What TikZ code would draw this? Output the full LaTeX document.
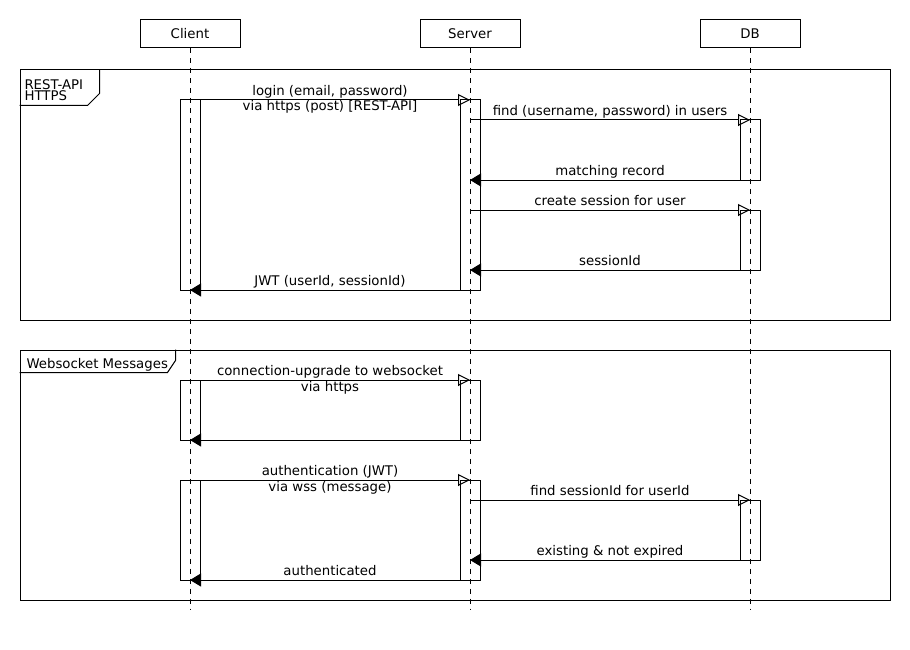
\documentclass[tikz,border=0pt]{standalone}
\usepackage{fontspec}
\setmainfont{DejaVu Sans}
\usetikzlibrary{positioning, arrows.meta, fit}

\begin{document}
\begin{tikzpicture}[
          x = 1pt, y = -1pt, line width = 1pt,
          font = \fontsize{13.3}{16}\selectfont,
          call/.style = {-{Triangle[open, length=12pt, width=12pt]}},
          reply/.style = {-{Triangle[length=11pt, width=13pt]}},
          msg/.style = {midway, anchor=base, yshift=4.5pt, inner sep=0},
          msgbelow/.style = {midway, anchor=base, yshift=-11pt, inner sep=0}
        ]
          \tikzstyle {head} = [draw, minimum width = 100pt, minimum height = 28pt, inner sep = 0]
          \tikzstyle {lifeline} = [dash pattern = on 5pt off 5pt]
          \tikzstyle {act} = [draw, minimum width = 20pt, inner sep = 0]
          \tikzstyle {fragment} = [draw, inner sep = 0]
          \useasboundingbox (0,0) rectangle (910,650);
          % place nodes
          \path node (client) [head] at (190,34) {Client};
          \path node (server) [head] at (470,34) {Server};
          \path node (db) [head] at (750,34) {DB};
          \coordinate (bottom) at (0,610);
          % lifelines
          \foreach \p in {client, server, db}
            { \draw [lifeline] (\p.south) -- (\p.south |- bottom) ; } ;
          % combined fragments
          \path node (restframe) [fragment, minimum width = 870pt, minimum height = 250pt] at (455,195) {};
          \draw ([xshift=80pt]restframe.north west) -- ++(0,24) -- ++(-12,12) -- ++(-68,0);
          \path node [anchor = north west, inner sep = 0, align = left,
            font = \fontsize{13.3}{11.5}\selectfont] at (24,79) {REST-API\\HTTPS};
          \path node (wsframe) [fragment, minimum width = 870pt, minimum height = 250pt] at (455,475) {};
          \draw ([xshift=156pt]wsframe.north west) -- ++(0,11) -- ++(-8,12) -- ++(-148,0);
          \path node [anchor = base west, inner sep = 0] at (26,368) {Websocket Messages};
          % activation bars
          \foreach \n/\p/\t/\b in {ca1/client/100/290, sa1/server/100/290, da1/db/120/180, da2/db/210/270,
                                   ca2/client/380/440, sa2/server/380/440,
                                   ca3/client/480/580, sa3/server/480/580, da3/db/500/560}
            { \node (\n) [act, fit = {(\p |- 0,\t) (\p |- 0,\b)}] {} ; } ;
          % place messages
          \draw [call] (client |- 0,100) -- (server |- 0,100)
            node [msg] {login (email, password)} node [msgbelow] {via https (post) [REST-API]};
          \draw [call] (server |- 0,120) -- (db |- 0,120) node [msg] {find (username, password) in users};
          \draw [reply] (db |- 0,180) -- (server |- 0,180) node [msg] {matching record};
          \draw [call] (server |- 0,210) -- (db |- 0,210) node [msg] {create session for user};
          \draw [reply] (db |- 0,270) -- (server |- 0,270) node [msg] {sessionId};
          \draw [reply] (server |- 0,290) -- (client |- 0,290) node [msg] {JWT (userId, sessionId)};
          \draw [call] (client |- 0,380) -- (server |- 0,380)
            node [msg] {connection-upgrade to websocket} node [msgbelow] {via https};
          \draw [reply] (server |- 0,440) -- (client |- 0,440);
          \draw [call] (client |- 0,480) -- (server |- 0,480)
            node [msg] {authentication (JWT)} node [msgbelow] {via wss (message)};
          \draw [call] (server |- 0,500) -- (db |- 0,500) node [msg] {find sessionId for userId};
          \draw [reply] (db |- 0,560) -- (server |- 0,560) node [msg] {existing \& not expired};
          \draw [reply] (server |- 0,580) -- (client |- 0,580) node [msg] {authenticated};
        \end{tikzpicture}
\end{document}
